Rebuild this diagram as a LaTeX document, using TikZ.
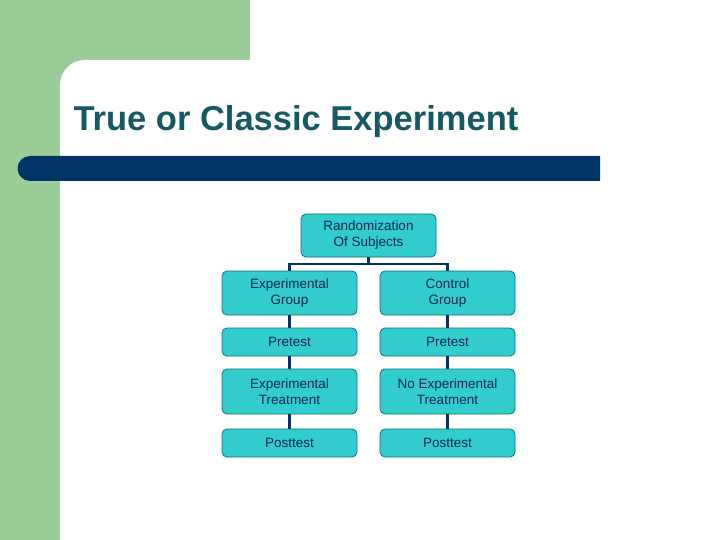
\documentclass[tikz,border=0pt]{standalone}
\usepackage{fontspec}
\setmainfont{Liberation Sans}
\usetikzlibrary{positioning}
\definecolor{sidegreen}{RGB}{155,204,153}
\definecolor{barblue}{RGB}{0,51,102}
\definecolor{titleteal}{RGB}{22,88,100}
\definecolor{boxcyan}{RGB}{51,204,204}
\definecolor{boxline}{RGB}{0,120,130}
\definecolor{textnavy}{RGB}{0,40,90}

\begin{document}
\begin{tikzpicture}[x=1pt,y=-1pt,
                    box/.style={draw=boxline, fill=boxcyan, rounded corners=5pt, thick,
                                minimum width=135pt, align=center, text=textnavy,
                                font=\fontsize{13.5}{16}\selectfont, inner sep=1pt},
                    link/.style={barblue, line width=2.5pt},
                   ]

\useasboundingbox (0,0) rectangle (720,540);
\fill[sidegreen] (0,0) rectangle (720,540);
\fill[white] (60,540) -- (60,85) arc[start angle=180, end angle=270, radius=25] -- (720,60) -- (720,540) -- cycle;
\fill[white] (250,60) rectangle (720,0);

\node[anchor=west, text=titleteal, font=\fontsize{34.5}{40}\selectfont\bfseries] (title) at (70,122) {True or Classic Experiment};
\fill[barblue] (30,156) -- (600,156) -- (600,181) -- (30,181) arc[start angle=90, end angle=270, radius=12.5] -- cycle;

\node[box, minimum height=43pt] (rand) at (368.5,235.5) {Randomization\\Of Subjects};

\node[box, minimum height=44pt] (egroup) at (289.5,293) {Experimental\\Group};
\node[box, minimum height=44pt] (cgroup) at (447.5,293) {Control\\Group};
\node[box, minimum height=28pt] (epre) at (289.5,342) {Pretest};
\node[box, minimum height=28pt] (cpre) at (447.5,342) {Pretest};
\node[box, minimum height=45pt] (etreat) at (289.5,391.5) {Experimental\\Treatment};
\node[box, minimum height=45pt] (ctreat) at (447.5,391.5) {No Experimental\\Treatment};
\node[box, minimum height=28pt] (epost) at (289.5,443) {Posttest};
\node[box, minimum height=28pt] (cpost) at (447.5,443) {Posttest};

\coordinate (split) at (368.5,264);
\draw[link] (rand.south) -- (split);
\draw[link] (egroup.north) |- (split) -| (cgroup.north);
\draw[link] (egroup) -- (epre);
\draw[link] (epre) -- (etreat);
\draw[link] (etreat) -- (epost);
\draw[link] (cgroup) -- (cpre);
\draw[link] (cpre) -- (ctreat);
\draw[link] (ctreat) -- (cpost);

\end{tikzpicture}
\end{document}
